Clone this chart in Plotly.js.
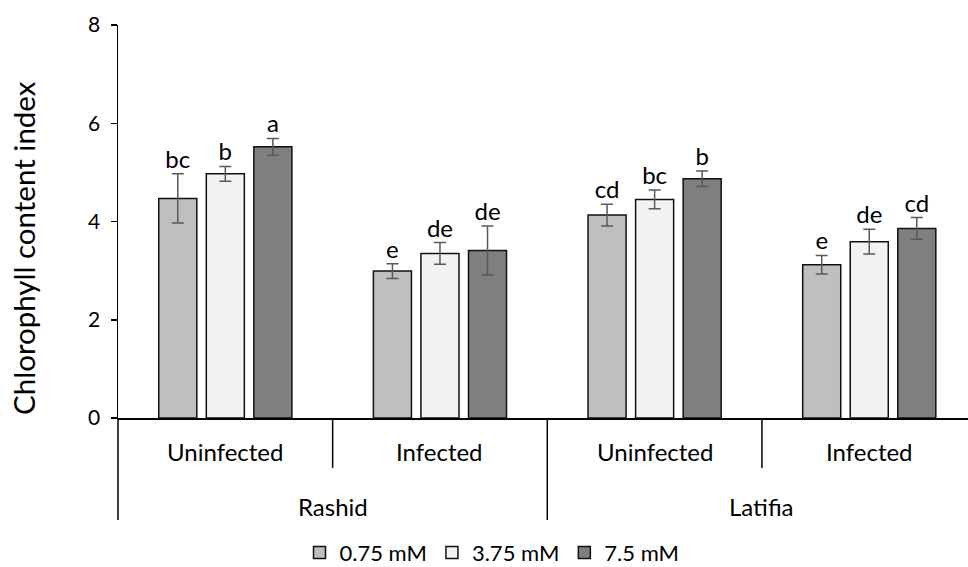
<!DOCTYPE html>
<html>
<head>
<meta charset="utf-8">
<script src="https://cdn.plot.ly/plotly-3.0.1.min.js"></script>
<style>
  html, body { margin: 0; padding: 0; background: #fff; }
  #chart { width: 968px; height: 567px; }
</style>
</head>
<body>
<div id="chart"></div>
<script>
// Cultivar / infection status for each group of bars
const cultivars = ['Rashid', 'Rashid', 'Latifia', 'Latifia'];
const infection = ['Uninfected', 'Infected', 'Uninfected', 'Infected'];

// Treatment series
const seriesNames = ['0.75 mM', '3.75 mM', '7.5 mM'];

// Chlorophyll content index (means)
const low  = [4.47, 2.99, 4.13, 3.12];
const mid  = [4.97, 3.35, 4.45, 3.59];
const high = [5.52, 3.41, 4.87, 3.86];

// Standard errors
const lowErr  = [0.50, 0.15, 0.22, 0.19];
const midErr  = [0.15, 0.22, 0.19, 0.25];
const highErr = [0.17, 0.50, 0.16, 0.22];

// Significance letters
const lowLetters  = ['bc', 'e', 'cd', 'e'];
const midLetters  = ['b', 'de', 'bc', 'de'];
const highLetters = ['a', 'de', 'b', 'cd'];

const yTicks = [0, 2, 4, 6, 8];
const yTitle = 'Chlorophyll content index';

const FONT = 'Lato, "Open Sans", sans-serif';
const fills = ['#bfbfbf', '#f2f2f2', '#7f7f7f'];
const means = [low, mid, high];
const errs = [lowErr, midErr, highErr];
const letters = [lowLetters, midLetters, highLetters];
const xCats = [cultivars, infection];

const BARGAP = 0.3355;
const xRange = [-0.5, 3.46];
const span = xRange[1] - xRange[0];
const toDomain = v => (v - xRange[0]) / span;

const traces = [];
means.forEach((vals, i) => {
  traces.push({
    type: 'bar',
    name: seriesNames[i],
    x: xCats,
    y: vals,
    marker: { color: fills[i], line: { color: '#111', width: 1.5 } },
    error_y: { type: 'data', array: errs[i], visible: true, color: '#595959', thickness: 1.5, width: 6 }
  });
});
// Letters sit above each error bar
means.forEach((vals, i) => {
  traces.push({
    type: 'scatter',
    mode: 'text',
    x: xCats,
    y: vals.map((v, k) => v + errs[i][k]),
    text: letters[i],
    textposition: 'top center',
    textfont: { family: FONT, size: 24, color: '#000' },
    showlegend: false,
    hoverinfo: 'skip',
    cliponaxis: false
  });
});

// Two-level category labels under the axis
const INNER_Y = -0.085, OUTER_Y = -0.226;
const annotations = [];
infection.forEach((lab, k) => {
  annotations.push({
    xref: 'x domain', yref: 'paper', x: toDomain(k), y: INNER_Y,
    text: lab, showarrow: false, xanchor: 'center', yanchor: 'middle',
    font: { family: FONT, size: 24, color: '#000' }
  });
});
// one outer label per run of identical cultivar names
let start = 0;
for (let k = 1; k <= cultivars.length; k++) {
  if (k === cultivars.length || cultivars[k] !== cultivars[start]) {
    annotations.push({
      xref: 'x domain', yref: 'paper', x: toDomain((start + k - 1) / 2), y: OUTER_Y,
      text: cultivars[start], showarrow: false, xanchor: 'center', yanchor: 'middle',
      font: { family: FONT, size: 24, color: '#000' }
    });
    start = k;
  }
}
// Y-axis title
annotations.push({
  xref: 'paper', yref: 'paper', x: -0.1106, y: 0.4326,
  text: yTitle, textangle: -90, showarrow: false,
  xanchor: 'center', yanchor: 'middle',
  font: { family: FONT, size: 29.5, color: '#000' }
});

// Dividers: short ones between infection groups, long ones between cultivars
const shapes = [];
for (let k = 0; k <= cultivars.length; k++) {
  const b = k - 0.5;
  if (b > xRange[1]) continue;
  const outer = k === 0 || k === cultivars.length || cultivars[k] !== cultivars[k - 1];
  shapes.push({
    type: 'line', xref: 'x domain', yref: 'paper',
    x0: toDomain(b), x1: toDomain(b),
    y0: 0, y1: outer ? -0.2595 : -0.127,
    line: { color: '#000', width: 1.5 }
  });
}

const layout = {
  width: 968, height: 567,
  margin: { l: 118, r: 0, t: 25, b: 149, autoexpand: false },
  paper_bgcolor: '#fff', plot_bgcolor: '#fff',
  font: { family: FONT, color: '#000' },
  barmode: 'group',
  bargap: BARGAP,
  bargroupgap: 0.2,
  scattermode: 'group',
  scattergap: BARGAP,
  showlegend: true,
  legend: {
    orientation: 'h', x: 0.44, xanchor: 'center', y: -0.343, yanchor: 'middle',
    font: { family: FONT, size: 22, color: '#000' },
    itemwidth: 30
  },
  xaxis: {
    type: 'multicategory',
    range: xRange,
    showline: true, linecolor: '#000', linewidth: 1.5,
    ticks: '', showgrid: false, zeroline: false,
    showticklabels: false, showdividers: false
  },
  yaxis: {
    range: [0, 8],
    tickvals: yTicks,
    ticktext: yTicks.map(String),
    ticks: 'outside', ticklen: 6, tickwidth: 1.5, tickcolor: '#000',
    ticklabelstandoff: 6,
    showline: true, linecolor: '#000', linewidth: 1.5,
    showgrid: false, zeroline: false,
    tickfont: { family: FONT, size: 21, color: '#000' }
  },
  annotations: annotations,
  shapes: shapes
};

Plotly.newPlot('chart', traces, layout, { displayModeBar: false, staticPlot: true });
</script>
</body>
</html>
